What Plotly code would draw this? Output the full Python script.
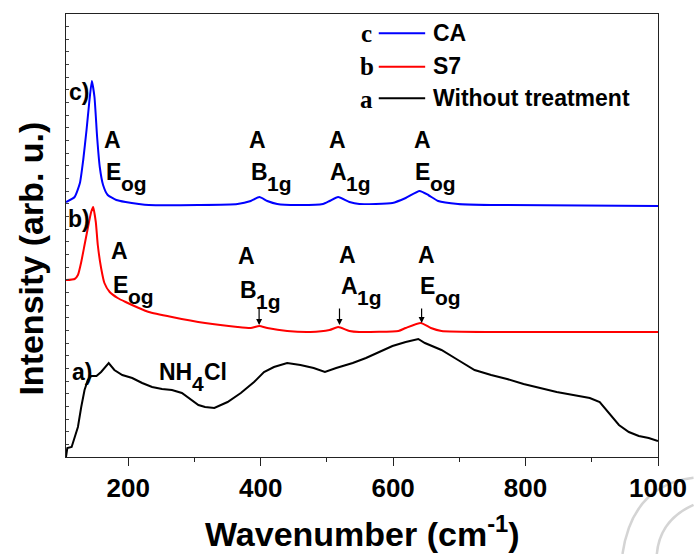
import plotly.graph_objects as go

# Raman spectra (wavenumber in cm-1, intensity in arbitrary units, vertically offset)
wn_raw = [106, 108, 114.5, 119, 124, 129, 134, 139, 144, 152,
          159, 170.5, 179, 191, 206, 221, 236, 251, 266, 281,
          296, 306, 316, 330, 350, 370, 390, 405, 420, 440,
          460, 480, 497, 514, 539, 559, 579, 599, 619, 638,
          648, 673, 698, 723, 748, 772, 797, 822, 847, 872,
          897, 912, 926, 941, 956, 971, 986, 1000]
int_raw = [0, 9, 10, 20, 30, 50, 67, 77, 81, 81,
           85, 94, 87, 82, 79, 74, 70, 68, 67, 64,
           57, 52, 50, 49, 55, 64, 75, 85, 90, 94,
           92, 89, 85, 89, 94, 99, 105, 111, 115, 118,
           114, 107, 97, 87, 82, 78, 73, 69, 65, 62,
           59, 55, 44, 32, 25, 21, 19, 16]

wn_s7 = [106, 119, 124, 129, 134, 139, 144, 147, 151, 154,
         159, 164, 172, 184, 196, 216, 231, 266, 316, 365,
         385, 398, 410, 440, 475, 504, 517, 534, 549, 608,
         619, 642, 657, 673, 753, 1000]
int_s7 = [177, 178, 182, 195, 212, 229, 245, 250, 235, 212,
          189, 174, 165, 159, 155, 149, 145, 140, 134, 130,
          129, 131, 129, 126, 125, 127, 130, 126, 125, 126,
          129, 134, 129, 126, 125, 125]

wn_ca = [106, 119, 127, 132, 137, 141, 145, 149, 153, 157,
         162, 169, 182, 196, 216, 231, 306, 365, 385, 398,
         410, 425, 455, 494, 504, 517, 534, 549, 599, 619,
         640, 653, 668, 698, 748, 1000]
int_ca = [255, 260, 274, 297, 327, 354, 376, 360, 320, 290,
          272, 262, 257, 255, 253, 252, 252, 253, 256, 260,
          256, 253, 252, 253, 256, 260, 255, 253, 254, 259,
          266, 262, 256, 253, 252, 251]

series_names = ["CA", "S7", "Without treatment"]
series_letters = ["c", "b", "a"]
series_colors = ["#0000FF", "#FF0000", "#000000"]

x_ticks = [200, 400, 600, 800, 1000]
x_range = [106, 1000]
y_range = [0, 443]

FONT = "Liberation Sans, Arial, Helvetica, sans-serif"
SERIF = "Liberation Serif, Times New Roman, serif"

fig = go.Figure()
fig.add_trace(go.Scatter(x=wn_raw, y=int_raw, mode="lines",
                         line=dict(color=series_colors[2], width=2), showlegend=False))
fig.add_trace(go.Scatter(x=wn_s7, y=int_s7, mode="lines",
                         line=dict(color=series_colors[1], width=2, shape="spline", smoothing=0.5),
                         showlegend=False))
fig.add_trace(go.Scatter(x=wn_ca, y=int_ca, mode="lines",
                         line=dict(color=series_colors[0], width=2, shape="spline", smoothing=0.5),
                         showlegend=False))

annotations = []


def text(x, y, s, size=23, xanchor="center", xshift=0, yshift=0, family=FONT, xref="x", yref="y"):
    annotations.append(dict(x=x, y=y, xref=xref, yref=yref, text=s, showarrow=False,
                            xanchor=xanchor, yanchor="middle", xshift=xshift, yshift=yshift,
                            font=dict(family=family, size=size, color="black", weight="bold")))


def mode_label(x_a, y_a, x_main, y_main, main, sub, main_w):
    # "A" above, then the symmetry symbol with a full-size lowered subscript
    text(x_a, y_a, "A")
    text(x_main, y_main, main, xanchor="left")
    text(x_main, y_main, sub, size=21, xanchor="left", xshift=main_w, yshift=-11)


W_E, W_B, W_A = 15, 16, 16

# CA peaks
mode_label(176, 317, 164, 285, "E", "og", W_E)
mode_label(395, 317, 383, 285, "B", "1g", W_B)
mode_label(516, 317, 502, 285, "A", "1g", W_A)
mode_label(644, 317, 630.5, 285, "E", "og", W_E)

# S7 peaks
mode_label(186.5, 206, 174.5, 172, "E", "og", W_E)
mode_label(378.7, 201, 365, 167, "B", "1g", W_B)
mode_label(530.7, 202, 518.7, 171, "A", "1g", W_A)
mode_label(650, 202, 638, 171, "E", "og", W_E)

# arrows pointing at the S7 peaks
for ax_, tip_y in [(397.6, 132), (519, 132), (643, 134)]:
    annotations.append(dict(x=ax_, y=tip_y, ax=ax_, ay=150, xref="x", yref="y",
                            axref="x", ayref="y", text="", showarrow=True,
                            arrowhead=2, arrowsize=1, arrowwidth=1.2, arrowcolor="black"))

# NH4Cl band
text(243, 85, "NH", xanchor="left")
text(243, 85, "4", size=21, xanchor="left", xshift=33, yshift=-11)
text(243, 85, "Cl", xanchor="left", xshift=45)

# curve tags
text(130, 85, "a)")
text(125, 238, "b)")
text(125, 365, "c)")

# legend (drawn in paper coordinates)
shapes = []
legend_rows = [(0.9564, 0.9564, 0.9564), (0.881, 0.8826, 0.8826), (0.8097, 0.8075, 0.8097)]
for name, letter, color, (y_line, y_letter, y_name) in zip(series_names, series_letters,
                                                           series_colors, legend_rows):
    shapes.append(dict(type="line", xref="paper", yref="paper", x0=0.5283, x1=0.6067,
                       y0=y_line, y1=y_line, line=dict(color=color, width=2)))
    text(0.5083, y_letter, letter, size=25, family=SERIF, xref="paper", yref="paper")
    text(0.617, y_name, name, xanchor="left", xref="paper", yref="paper")

# faint corner logo outline, kept behind everything
for path in ["M 0.94,-0.219 Q 0.957,-0.063 1.06,-0.047",
             "M 0.998,-0.219 Q 1.003,-0.142 1.06,-0.108"]:
    shapes.append(dict(type="path", xref="paper", yref="paper", path=path, layer="below",
                       line=dict(color="#d4d4d4", width=2.5)))

# axis titles
annotations.append(dict(x=-0.0583, y=0.449, xref="paper", yref="paper",
                        text="Intensity (arb. u.)", textangle=-90, showarrow=False,
                        xanchor="center", yanchor="middle",
                        font=dict(family=FONT, size=34, color="black", weight="bold")))
annotations.append(dict(x=0.5, y=-0.169, xref="paper", yref="paper",
                        text="Wavenumber (cm<sup>-1</sup>)", showarrow=False,
                        xanchor="center", yanchor="middle",
                        font=dict(family=FONT, size=34, color="black", weight="bold")))

axis_line = dict(showline=True, linecolor="#222222", linewidth=1.3, mirror=True,
                 showgrid=False, zeroline=False)

fig.update_layout(
    width=699, height=554,
    margin=dict(l=66, r=33, t=14, b=97),
    paper_bgcolor="white", plot_bgcolor="rgba(0,0,0,0)",
    showlegend=False,
    xaxis=dict(range=x_range, tickmode="array", tickvals=x_ticks, ticks="outside",
               ticklen=8, tickwidth=1.3, tickcolor="#222222",
               tickfont=dict(family=FONT, size=26, color="black", weight="bold"),
               minor=dict(tick0=0, dtick=100, ticks="outside", ticklen=4, tickwidth=1.3,
                          tickcolor="#222222"),
               **axis_line),
    yaxis=dict(range=y_range, showticklabels=False, ticks="inside", tick0=0,
               dtick=y_range[1] / 35, ticklen=3, tickwidth=1, tickcolor="#444444",
               **axis_line),
    xaxis2=dict(overlaying="x", side="top", anchor="y", range=[0, 10], dtick=1,
                ticks="inside", ticklen=3, tickwidth=1, tickcolor="#444444",
                showticklabels=False, showline=False, showgrid=False, zeroline=False),
    yaxis2=dict(overlaying="y", side="right", anchor="x", range=[0, 10], dtick=1,
                ticks="inside", ticklen=4, tickwidth=1, tickcolor="#444444",
                showticklabels=False, showline=False, showgrid=False, zeroline=False),
    annotations=annotations,
    shapes=shapes,
)

fig.write_html("out.html")
